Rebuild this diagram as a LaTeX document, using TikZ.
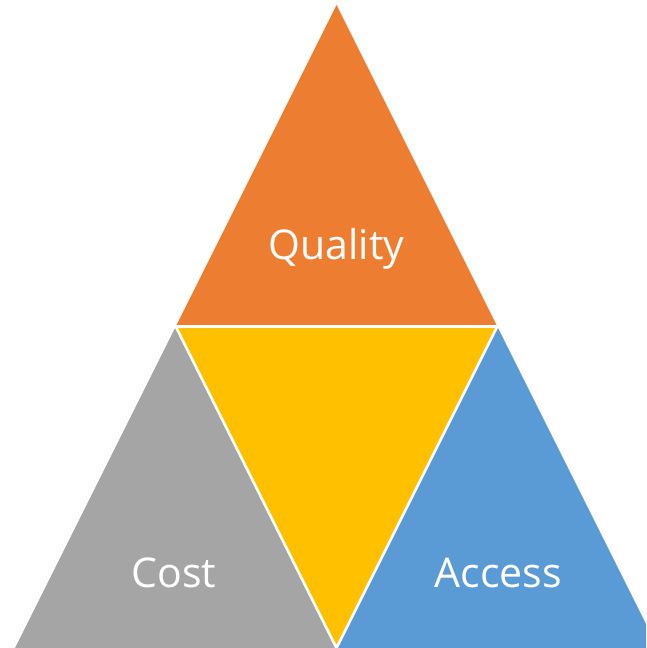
\documentclass[tikz,border=0pt]{standalone}
\usepackage{fontspec}
\setmainfont{Open Sans}
\definecolor{qualityorange}{HTML}{ED7D31}
\definecolor{costgray}{HTML}{A5A5A5}
\definecolor{middleyellow}{HTML}{FFC000}
\definecolor{accessblue}{HTML}{5B9BD5}

\begin{document}
\begin{tikzpicture}[x=1pt,y=-1pt,
    part/.style={line join=miter},
    lbl/.style={text=white, font=\fontsize{41}{48}\selectfont}]
      \useasboundingbox (0,0) rectangle (646,648);
      \clip (0,0) rectangle (646,648);

      \coordinate (apex) at (336.5,5);
      \coordinate (midleft) at (175.75,326.5);
      \coordinate (midright) at (497.25,326.5);
      \coordinate (botleft) at (15,648);
      \coordinate (botmid) at (336.5,648);
      \coordinate (botright) at (658,648);

      \fill[part, qualityorange] (apex) -- (midleft) -- (midright) -- cycle;
      \fill[part, costgray] (midleft) -- (botleft) -- (botmid) -- cycle;
      \fill[part, accessblue] (midright) -- (botmid) -- (botright) -- cycle;
      \filldraw[part, fill=middleyellow, draw=white, line width=2.6pt] (midleft) -- (midright) -- (botmid) -- cycle;

      \node[lbl] (quality) at (336.5,249) {Quality};
      \node[lbl] (cost) at (174,573) {Cost};
      \node[lbl] (access) at (498.5,573) {Access};
    \end{tikzpicture}
\end{document}
